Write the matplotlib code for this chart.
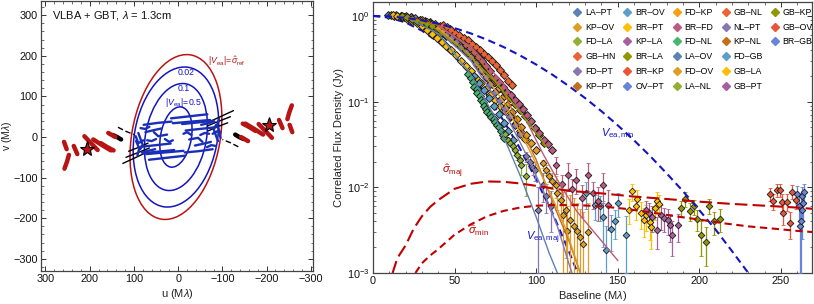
import numpy as np
import matplotlib
matplotlib.use("Agg")
import matplotlib.pyplot as plt
from matplotlib.patches import Ellipse
from matplotlib.lines import Line2D
from matplotlib.ticker import MultipleLocator, LogLocator, NullFormatter

plt.rcParams.update({
    "font.family": ["Liberation Sans", "DejaVu Sans"],
    "mathtext.fontset": "custom",
    "mathtext.rm": "Liberation Sans",
    "mathtext.it": "Liberation Sans:italic",
    "mathtext.bf": "Liberation Sans:bold",
    "font.size": 8,
    "axes.linewidth": 0.9,
    "axes.edgecolor": "#444444",
    "xtick.direction": "in", "ytick.direction": "in",
    "xtick.top": True, "ytick.right": True,
    "xtick.major.size": 3.5, "ytick.major.size": 3.5,
    "xtick.minor.size": 1.8, "ytick.minor.size": 1.8,
    "xtick.major.width": 0.7, "ytick.major.width": 0.7,
    "xtick.minor.width": 0.5, "ytick.minor.width": 0.5,
    "xtick.color": "#333333", "ytick.color": "#333333",
    "xtick.labelcolor": "#111111", "ytick.labelcolor": "#111111",
    "xtick.labelsize": 7.8, "ytick.labelsize": 7.8,
    "xtick.major.pad": 2.5, "ytick.major.pad": 2.5,
})

RED = "#B81414"
BLUE = "#1414C0"
DRED = "#C00000"

# ---- left panel data: (u, v) coverage, Mlambda --------------------------------
# elliptical |V| contours: semi-axes before tilt
ell_names = ["ref", "0.02", "0.1", "0.5"]
ell_semi_u = [100, 94, 69, 35]
ell_semi_v = [205, 174, 133, 75]
ell_tilt = [9, 9, 9, 9]
ell_center = (5, 0)

# tracks listed for one half of the plane; the conjugate half is (-u, -v)
uv_blue = [
    [(16, 46), (-25, 51), (-66, 56)],
    [(12, 34), (-30, 38), (-72, 42)],
    [(78, 30), (45, 35), (15, 38)],
    [(74, 12), (55, 17), (38, 21)],
    [(55, 12), (45, 2), (25, 6)],
    [(90, 10), (85, -5), (80, -20), (86, -30)],
    [(84, -24), (50, -20), (17, -16)],
    [(80, -40), (45, -36), (9, -32)],
    [(-52, 30), (-68, 34), (-82, 38)],
    [(70, -8), (60, -10), (50, -5)],
    [(95, -10), (88, -28), (92, -45)],
    [(30, -5), (20, -12), (12, -8)],
    [(65, 25), (75, 20), (85, 22)],
    [(96, 2), (90, -15), (78, -8)],
]
uv_black = [
    [(125, -65), (95, -50), (70, -37)],
    [(118, -50), (90, -38), (65, -27)],
    [(112, -35), (88, -25), (68, -15)],
]
uv_black_dash = [[(136, 24), (118, 14), (100, 6)]]
uv_black_thick = [[(148, 5), (138, 0), (129, -6)]]
uv_red = [
    [(258, -12), (252, -30)],
    [(257, -78), (251, -60), (247, -44)],
    [(236, -22), (228, -42)],
    [(212, 2), (198, -14), (182, -32)],
    [(192, -6), (172, -20), (152, -33)],
    [(175, -15), (160, -25), (146, -33)],
    [(158, 10), (142, 0)],
]
uv_star = (205, -30)

# ---- right panel data --------------------------------------------------------
PAL = ["#5E81B5", "#E19C24", "#8FB032", "#EB6235", "#8778B3", "#C56E1A",
       "#5D9EC7", "#FFBF00", "#A5609D", "#929600", "#E95536", "#6685D9",
       "#F89F13", "#BC5B80", "#47B66D"]
baselines = ["LA–PT", "KP–OV", "FD–LA", "GB–HN", "FD–PT", "KP–PT",
             "BR–OV", "BR–PT", "KP–LA", "BR–LA", "BR–KP", "OV–PT",
             "FD–KP", "BR–FD", "FD–NL", "LA–OV", "FD–OV", "LA–NL",
             "GB–NL", "NL–PT", "KP–NL", "FD–GB", "GB–LA", "GB–PT",
             "GB–KP", "GB–OV", "BR–GB"]


def col(name):
    return PAL[baselines.index(name) % 15]


# densely sampled short-spacing tracks (baseline Mlambda, flux Jy)
lapt_b = [9, 11, 13, 15, 17, 19]
lapt_v = [1.03, 1.02, 1.01, 1.0, 0.99, 0.98]
kppt_b = [14, 17, 20, 23, 26, 29, 32, 35, 38, 41, 44, 47]
kppt_v = [1.02, 1.0, 0.98, 0.96, 0.93, 0.9, 0.87, 0.84, 0.8, 0.77, 0.73, 0.7]
fdpt_b = [20, 23, 26, 29, 32, 35, 38]
fdpt_v = [0.99, 0.97, 0.94, 0.9, 0.86, 0.82, 0.77]
fdkp_b = [30, 33, 36, 39, 42, 45, 48, 51]
fdkp_v = [0.9, 0.86, 0.8, 0.74, 0.68, 0.63, 0.57, 0.52]
ghn_b = [43, 45.5, 48, 50.5, 53, 55.5, 58, 60.5, 63, 65.5, 68, 70.5, 73, 75.5,
         78, 80.5, 83, 85]
ghn_v = [0.78, 0.74, 0.69, 0.635, 0.6, 0.56, 0.52, 0.475, 0.44, 0.4, 0.36,
         0.33, 0.295, 0.265, 0.235, 0.205, 0.175, 0.155]
brfd_b = [57, 59.5, 62, 64.5, 67, 69.5, 72, 74.5, 77, 79.5, 82, 84.5, 87, 89.5,
          92, 94.5, 97, 99.5, 102, 104.5, 107, 110]
brfd_v = [0.46, 0.42, 0.375, 0.335, 0.295, 0.26, 0.225, 0.19, 0.17, 0.15, 0.13,
          0.118, 0.105, 0.093, 0.082, 0.07, 0.06, 0.049, 0.043, 0.036, 0.032,
          0.027]
fdnl_b = [58, 60, 61.5, 62, 63.5, 64, 65.5, 66, 67.5, 68, 69.5, 70, 71.5, 72.5,
          74, 75, 76, 77.5, 78.5, 79.5, 80]
fdnl_v = [0.21, 0.19, 0.17, 0.15, 0.14, 0.125, 0.115, 0.105, 0.098, 0.088,
          0.083, 0.075, 0.072, 0.066, 0.062, 0.058, 0.054, 0.05, 0.046, 0.041,
          0.038]
fdla_b = [81, 82.5, 84, 85.5, 87, 88.5, 90, 91, 94]
fdla_v = [0.042, 0.036, 0.033, 0.03, 0.027, 0.024, 0.021, 0.018, 0.0134]
fdla_e = [0.002, 0.002, 0.002, 0.002, 0.003, 0.003, 0.003, 0.004, 0.0055]
brla_b = [18, 21, 24, 27, 30, 33, 36, 39, 42, 45, 48, 51, 54, 57, 60, 63, 66,
          69, 72, 75, 78, 81, 84, 87, 90, 93, 96, 99, 102, 105]
brla_v = [1.0, 0.96, 0.92, 0.88, 0.84, 0.8, 0.76, 0.7, 0.64, 0.59, 0.54, 0.48,
          0.43, 0.38, 0.34, 0.3, 0.26, 0.225, 0.195, 0.17, 0.146, 0.128, 0.11,
          0.094, 0.08, 0.068, 0.058, 0.049, 0.041, 0.033]
brpt_b = [12, 15, 18, 21, 24, 27, 30, 33, 36, 39, 42, 45, 48, 51, 54, 57, 60,
          63, 66, 69, 72, 75, 78, 81, 84, 87, 90, 93]
brpt_v = [1.02, 1.0, 0.97, 0.93, 0.88, 0.82, 0.76, 0.69, 0.62, 0.56, 0.5, 0.45,
          0.4, 0.35, 0.3, 0.26, 0.225, 0.19, 0.165, 0.14, 0.12, 0.105, 0.09,
          0.077, 0.066, 0.055, 0.045, 0.037]
kpov_b = [40, 43, 46, 49, 52, 55, 58, 61, 64, 67, 70, 73, 76, 79, 82, 85, 88,
          91, 94, 97, 100]
kpov_v = [0.72, 0.66, 0.6, 0.54, 0.48, 0.42, 0.37, 0.32, 0.27, 0.23, 0.19, 0.16,
          0.135, 0.11, 0.092, 0.076, 0.062, 0.05, 0.041, 0.033, 0.027]
nlpt_b = [45, 48, 51, 54, 57, 60, 63, 66, 69, 72, 75, 78, 81, 84, 87, 90]
nlpt_v = [0.6, 0.55, 0.5, 0.44, 0.39, 0.33, 0.28, 0.235, 0.195, 0.16, 0.13,
          0.105, 0.085, 0.068, 0.054, 0.042]
brov_b = [62, 65, 68, 71, 74, 77, 80, 83, 86]
brov_v = [0.2, 0.165, 0.135, 0.11, 0.09, 0.072, 0.057, 0.045, 0.036]

# sparse long-spacing detections with 1-sigma errors
fdov_b = [104, 106, 108, 110, 112, 113, 115, 116.5, 118, 119, 121, 123, 125,
          127, 129, 132]
fdov_v = [0.019, 0.016, 0.0135, 0.012, 0.0105, 0.0085, 0.0072, 0.0048, 0.0055,
          0.0031, 0.0042, 0.0035, 0.0031, 0.0026, 0.0022, 0.003]
fdov_e = [0.002, 0.002, 0.002, 0.0025, 0.003, 0.003, 0.003, 0.004, 0.004,
          0.003, 0.004, 0.004, 0.0035, 0.003, 0.003, 0.0035]
nlptl_b = [94, 96, 98, 99.5, 101, 104, 106, 109]
nlptl_v = [0.023, 0.02, 0.017, 0.016, 0.0055, 0.0107, 0.008, 0.006]
nlptl_e = [0.003, 0.003, 0.003, 0.004, 0.0045, 0.004, 0.003, 0.003]
brfdl_b = [112, 116, 119.5, 122, 124.6, 128, 131.8, 135, 138, 141, 144]
brfdl_v = [0.0184, 0.011, 0.0141, 0.0095, 0.0123, 0.0075, 0.0141, 0.0086,
           0.007, 0.0105, 0.0062]
brfdl_e = [0.004, 0.003, 0.005, 0.003, 0.004, 0.003, 0.005, 0.003, 0.003,
           0.004, 0.003]
fdgb_b = [130.8, 136, 139, 141, 143, 146, 148, 150, 155]
fdgb_v = [0.0086, 0.0062, 0.006, 0.0045, 0.00186, 0.0033, 0.004, 0.0065, 0.0028]
fdgb_e = [0.003, 0.002, 0.002, 0.0025, 0.0017, 0.0015, 0.0015, 0.002, 0.0018]
gbla_b = [157, 159, 161, 162, 164.4, 165.8, 167.5, 169.5, 170.5, 172.6, 174,
          175.3]
gbla_v = [0.0055, 0.009, 0.006, 0.0074, 0.005, 0.0042, 0.0047, 0.0039, 0.0034,
          0.0058, 0.0069, 0.0064]
gbla_e = [0.0018, 0.002, 0.0018, 0.0018, 0.0017, 0.0016, 0.0016, 0.0015,
          0.0015, 0.0017, 0.0018, 0.0018]
gbpt_b = [167.5, 169, 171, 174, 176.7, 178.5, 180.7, 182.2, 183.4, 187]
gbpt_v = [0.0055, 0.005, 0.0045, 0.0032, 0.0047, 0.0044, 0.0042, 0.0036,
          0.0028, 0.0036]
gbpt_e = [0.0015, 0.0015, 0.0015, 0.0013, 0.0015, 0.0014, 0.0014, 0.0013,
          0.0012, 0.0013]
gbkp_b = [189, 191.5, 194, 196.5, 198.7, 201, 203.8, 206, 208.7, 212.8]
gbkp_v = [0.0058, 0.0074, 0.0053, 0.006, 0.0043, 0.0028, 0.0023, 0.0061,
          0.004, 0.0043]
gbkp_e = [0.0012, 0.0015, 0.0013, 0.0012, 0.0012, 0.0012, 0.0011, 0.0012,
          0.0012, 0.0013]
gbov_b = [243, 245, 247.5, 249.5, 250.7, 251.5, 253.8, 255.6, 256.5, 259.5]
gbov_v = [0.0084, 0.0069, 0.0094, 0.0094, 0.0068, 0.005, 0.0068, 0.0038,
          0.0089, 0.0071]
gbov_e = [0.0015, 0.0015, 0.0016, 0.0016, 0.0015, 0.0014, 0.0015, 0.0013,
          0.0016, 0.0015]
brgb_b = [259.7, 261.3, 261.8, 262, 262.6, 263, 263.5, 264]
brgb_v = [0.0084, 0.006, 0.0035, 0.004, 0.008, 0.0055, 0.0065, 0.0088]
brgb_e = [0.002, 0.002, 0.0025, 0.004, 0.002, 0.003, 0.0025, 0.002]

# per-baseline model curves (baseline, flux)
mod_kppt = [(20, 0.98), (40, 0.78), (60, 0.42), (80, 0.13), (100, 0.021),
            (112, 0.0055), (120, 0.0024), (127, 0.001)]
mod_brfd = [(40, 0.75), (60, 0.44), (80, 0.16), (95, 0.055), (104, 0.025),
            (115, 0.0105), (125, 0.0052), (139, 0.0025), (150, 0.0014)]
mod_kpov = [(40, 0.72), (60, 0.34), (80, 0.1), (96, 0.027), (110, 0.0075),
            (118, 0.0033), (124.6, 0.0014), (127, 0.001)]
mod_lapt = [(20, 0.97), (40, 0.62), (59, 0.22), (75, 0.065), (90, 0.014),
            (100, 0.0045), (108, 0.0017), (113, 0.001)]
mod_fdpt = [(40, 0.68), (60, 0.3), (80, 0.08), (95, 0.022), (105, 0.0085),
            (113, 0.0035), (120, 0.0013), (122, 0.001)]
mod_ghn = [(43, 0.78), (55, 0.57), (65, 0.41), (75, 0.27), (85, 0.16)]
mod_brla = [(15, 1.0), (35, 0.79), (55, 0.41), (75, 0.17), (95, 0.058),
            (106, 0.03)]

# envelope curves
vmin_b = [0, 10, 20, 30, 40, 50, 60, 70, 80, 90, 100, 110, 120, 130, 140, 150,
          160, 170, 180, 190, 200, 210, 220, 230, 235]
vmin_v = [1.0, 0.987, 0.949, 0.889, 0.811, 0.721, 0.625, 0.527, 0.434, 0.347,
          0.271, 0.206, 0.152, 0.11, 0.0773, 0.0529, 0.0353, 0.023, 0.0145,
          0.009, 0.0054, 0.0032, 0.0018, 0.001, 0.00074]
vmaj_b = [0, 10, 20, 30, 40, 50, 60, 70, 80, 90, 100, 110, 120, 127]
vmaj_v = [1.0, 0.957, 0.839, 0.674, 0.496, 0.335, 0.207, 0.117, 0.06, 0.0286,
          0.0123, 0.005, 0.0018, 0.00084]
smaj_b = [12, 15, 20, 25, 30, 35, 40, 50, 60, 70, 80, 90, 100, 120, 140, 160,
          180, 200, 220, 240, 260, 270]
smaj_v = [0.001, 0.0015, 0.0021, 0.0033, 0.0046, 0.0059, 0.0071, 0.0096, 0.011,
          0.0117, 0.0116, 0.0111, 0.0104, 0.0091, 0.0085, 0.0078, 0.0073,
          0.0068, 0.0064, 0.0061, 0.0058, 0.0056]
smin_b = [26, 30, 35, 40, 50, 60, 70, 80, 90, 100, 110, 125, 140, 155, 170,
          185, 200, 215, 230, 245, 260, 270]
smin_v = [0.001, 0.0013, 0.0016, 0.0019, 0.0028, 0.0037, 0.0046, 0.0053,
          0.0058, 0.0061, 0.0062, 0.0062, 0.006, 0.0056, 0.0051, 0.0046,
          0.0042, 0.0038, 0.0035, 0.0033, 0.0031, 0.003]

# ------------------------------------------------------------------------------
fig = plt.figure(figsize=(8.14, 3.04), dpi=100)
axl = fig.add_axes([0.0504, 0.1086, 0.3342, 0.888])
axr = fig.add_axes([0.4582, 0.102, 0.5393, 0.891])

# ---- left: uv coverage ----
for i, name in enumerate(ell_names):
    c = RED if name == "ref" else BLUE
    axl.add_patch(Ellipse(ell_center, 2 * ell_semi_u[i], 2 * ell_semi_v[i],
                          angle=ell_tilt[i], fill=False, ec=c, lw=1.1, zorder=2))


def draw_tracks(tracks, **kw):
    for tr in tracks:
        u = np.array([p[0] for p in tr], float)
        v = np.array([p[1] for p in tr], float)
        axl.plot(u, v, solid_capstyle="round", **kw)
        axl.plot(-u, -v, solid_capstyle="round", **kw)


draw_tracks(uv_black, color="black", lw=1.0, zorder=3)
draw_tracks(uv_black_dash, color="black", lw=1.0, ls=(0, (4, 2)), zorder=3)
draw_tracks(uv_black_thick, color="black", lw=3.2, zorder=3)
draw_tracks(uv_blue, color="#1A2FB8", lw=1.7, zorder=4)
draw_tracks(uv_red, color=RED, lw=3.2, zorder=3)
for s in (1, -1):
    axl.plot(s * uv_star[0], s * uv_star[1], marker="*", ms=11, mfc=RED,
             mec="black", mew=0.8, ls="none", zorder=6)

axl.text(-68, 187, r"$|V_{\rm ea}|\!=\!\hat{\sigma}_{\rm ref}$", color=RED,
         fontsize=6.3, ha="left", va="center")
axl.text(-17, 160, "0.02", color=BLUE, fontsize=6.3, ha="center", va="center")
axl.text(-13, 120, "0.1", color=BLUE, fontsize=6.3, ha="center", va="center")
axl.text(-13, 86, r"$|V_{\rm ea}|\!=\!0.5$", color=BLUE, fontsize=6.3,
         ha="center", va="center")
axl.text(0.04, 0.945, r"VLBA + GBT, $\lambda$ = 1.3cm", transform=axl.transAxes,
         fontsize=8, ha="left", va="center", color="#111111")

axl.set_xlim(310, -305)
axl.set_ylim(-330, 335)
axl.xaxis.set_major_locator(MultipleLocator(100))
axl.xaxis.set_minor_locator(MultipleLocator(20))
axl.yaxis.set_major_locator(MultipleLocator(100))
axl.yaxis.set_minor_locator(MultipleLocator(20))
axl.set_xlabel(r"u (M$\lambda$)", color="#222222", labelpad=2)
axl.set_ylabel(r"v (M$\lambda$)", color="#222222", fontsize=7.6)
axl.yaxis.set_label_coords(-0.098, 0.5)

# ---- right: visibility amplitudes ----
dense = [("LA–PT", lapt_b, lapt_v), ("KP–PT", kppt_b, kppt_v),
         ("FD–PT", fdpt_b, fdpt_v), ("FD–KP", fdkp_b, fdkp_v),
         ("BR–PT", brpt_b, brpt_v), ("BR–LA", brla_b, brla_v),
         ("KP–OV", kpov_b, kpov_v), ("NL–PT", nlpt_b, nlpt_v),
         ("BR–OV", brov_b, brov_v), ("FD–NL", fdnl_b, fdnl_v),
         ("BR–FD", brfd_b, brfd_v), ("GB–HN", ghn_b, ghn_v)]
for name, b, v in dense:
    axr.plot(b, v, "D", ms=3.6, mfc=col(name), mec="#1a1a1a", mew=0.65,
             ls="none", zorder=3)

models = [("KP–PT", mod_kppt), ("BR–FD", mod_brfd), ("KP–OV", mod_kpov),
          ("LA–PT", mod_lapt), ("FD–PT", mod_fdpt), ("GB–HN", mod_ghn),
          ("BR–LA", mod_brla)]
for name, pts in models:
    axr.plot([p[0] for p in pts], [p[1] for p in pts], color=col(name),
             lw=1.0, zorder=4)

sparse = [("FD–LA", fdla_b, fdla_v, fdla_e), ("FD–OV", fdov_b, fdov_v, fdov_e),
          ("NL–PT", nlptl_b, nlptl_v, nlptl_e),
          ("BR–FD", brfdl_b, brfdl_v, brfdl_e),
          ("FD–GB", fdgb_b, fdgb_v, fdgb_e), ("GB–LA", gbla_b, gbla_v, gbla_e),
          ("GB–PT", gbpt_b, gbpt_v, gbpt_e), ("GB–KP", gbkp_b, gbkp_v, gbkp_e),
          ("GB–OV", gbov_b, gbov_v, gbov_e), ("BR–GB", brgb_b, brgb_v, brgb_e)]
for name, b, v, e in sparse:
    v = np.array(v)
    e = np.array(e)
    lo = np.minimum(e, v - 1e-5)
    axr.errorbar(b, v, yerr=[lo, e], fmt="D", ms=3.4, mfc=col(name),
                 mec="#1a1a1a", mew=0.6, ecolor=col(name), elinewidth=0.9,
                 capsize=1.5, capthick=0.8, zorder=3)

axr.plot(vmin_b, vmin_v, color=BLUE, lw=1.5, ls=(0, (3.5, 2.2)), zorder=5)
axr.plot(vmaj_b, vmaj_v, color=BLUE, lw=1.5, ls=(0, (3.5, 2.2)), zorder=2)
axr.plot(smaj_b, smaj_v, color=DRED, lw=1.5, ls=(0, (6, 2.5)), zorder=5)
axr.plot(smin_b, smin_v, color=DRED, lw=1.5, ls=(0, (3.5, 2.2)), zorder=5)

axr.text(140, 0.042, r"$V_{\rm ea,min}$", color=BLUE, fontsize=8, ha="left",
         va="center")
axr.text(94, 0.0026, r"$V_{\rm ea,maj}$", color=BLUE, fontsize=8, ha="left",
         va="center")
axr.text(42, 0.0152, r"$\hat{\sigma}_{\rm maj}$", color=DRED, fontsize=8,
         ha="left", va="center")
axr.text(58, 0.0031, r"$\hat{\sigma}_{\rm min}$", color=DRED, fontsize=8,
         ha="left", va="center")

handles = [Line2D([], [], marker="D", ls="none", ms=3.6, mfc=col(n),
                  mec=col(n), label=n) for n in baselines]
# pad the last column so the grid is 6 rows by 5 columns, filled by column
handles += [Line2D([], [], ls="none", label=" ") for _ in range(3)]
axr.legend(handles=handles, ncol=5, loc="upper right",
           bbox_to_anchor=(1.017, 1.003), frameon=False, fontsize=6.3,
           handlelength=0.8, handletextpad=0.5, columnspacing=0.95,
           labelspacing=0.66, borderaxespad=0.35)

axr.set_yscale("log")
axr.set_xlim(0, 269)
axr.set_ylim(1e-3, 1.45)
axr.xaxis.set_major_locator(MultipleLocator(50))
axr.xaxis.set_minor_locator(MultipleLocator(10))
axr.yaxis.set_major_locator(LogLocator(base=10, numticks=10))
axr.yaxis.set_minor_locator(LogLocator(base=10, subs=np.arange(2, 10),
                                       numticks=20))
axr.yaxis.set_minor_formatter(NullFormatter())
axr.set_xlabel(r"Baseline (M$\lambda$)", color="#222222", labelpad=2)
axr.set_ylabel("Correlated Flux Density (Jy)", color="#222222", labelpad=2)

fig.savefig("out.png", dpi=100)
